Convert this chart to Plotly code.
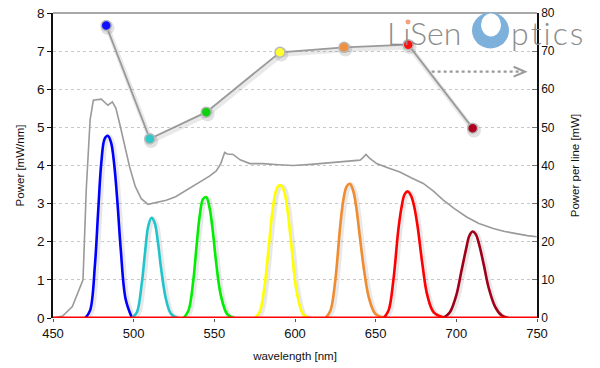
import plotly.graph_objects as go

# ---------------- data ----------------
# broadband (gray) spectrum, left axis [mW/nm]
bb_wl = [450, 456, 462, 466, 468.6, 470.6, 473, 475, 478, 480, 482, 484, 486.8, 489, 491.3, 494, 497.5, 501,
         504.7, 508.9, 514, 520.2, 526, 532.6, 538, 543, 547, 551.2, 554, 556.4, 558, 561.6, 566, 572, 580,
         590, 599, 610, 620, 630, 640.3, 642, 644, 646, 650.6, 657, 665, 672, 679.5, 686, 691.9, 699, 706.4,
         714, 722.9, 730, 738, 744, 749.8]
bb_val = [0.0, 0.05, 0.3, 0.7, 1.0, 3.35, 5.2, 5.71, 5.74, 5.74, 5.66, 5.58, 5.67, 5.5, 5.1, 4.6, 3.96, 3.45,
          3.13, 2.98, 3.03, 3.09, 3.18, 3.35, 3.48, 3.6, 3.72, 3.86, 4.05, 4.34, 4.3, 4.29, 4.15, 4.05, 4.05,
          4.02, 4.0, 4.03, 4.06, 4.1, 4.14, 4.2, 4.29, 4.2, 4.05, 3.95, 3.83, 3.68, 3.53, 3.32, 3.09, 2.86, 2.65,
          2.48, 2.35, 2.27, 2.2, 2.16, 2.13]

# individual laser lines, left axis [mW/nm]
blue_wl = [470, 473, 476, 478, 480, 482, 484, 486, 488, 490, 492, 495, 499]
blue_v = [0, 0.2, 1.4, 2.8, 4.1, 4.7, 4.78, 4.6, 4.0, 3.0, 1.8, 0.5, 0]
cyan_wl = [499, 502, 505, 507, 509, 511, 513, 515, 517, 520, 523, 527]
cyan_v = [0, 0.15, 0.9, 1.7, 2.4, 2.63, 2.5, 2.0, 1.3, 0.5, 0.12, 0]
green_wl = [531, 534, 537, 539, 541, 543, 545, 547, 549, 551, 554, 558, 562]
green_v = [0, 0.2, 1.0, 1.9, 2.7, 3.12, 3.17, 2.9, 2.3, 1.5, 0.6, 0.1, 0]
yellow_wl = [575, 578, 581, 584, 586, 588, 590, 592, 594, 596, 598, 601, 605, 609]
yellow_v = [0, 0.15, 0.8, 2.0, 2.8, 3.3, 3.48, 3.45, 3.2, 2.6, 1.8, 0.7, 0.1, 0]
orange_wl = [619, 622, 625, 628, 630, 632, 634, 636, 638, 640, 643, 646, 650, 656]
orange_v = [0, 0.2, 1.0, 2.4, 3.1, 3.45, 3.52, 3.35, 2.9, 2.2, 1.2, 0.5, 0.1, 0]
red_wl = [655, 658, 661, 664, 666, 668, 670, 672, 674, 676, 679, 682, 686, 693]
red_v = [0, 0.2, 1.0, 2.3, 2.9, 3.25, 3.32, 3.2, 2.9, 2.4, 1.4, 0.6, 0.15, 0]
dred_wl = [692, 696, 700, 703, 706, 708, 710, 712, 714, 717, 720, 724, 728, 732]
dred_v = [0, 0.15, 0.6, 1.2, 1.8, 2.15, 2.27, 2.2, 1.95, 1.4, 0.8, 0.3, 0.07, 0]

# power per line, right axis [mW]
line_wl = [483, 510, 545, 590.7, 630.4, 670.2, 710.1]
line_pw = [76.7, 47.0, 54.0, 69.7, 71.0, 71.7, 49.8]
line_colors = ["#1010ff", "#30c8c8", "#10d010", "#ffff30", "#f09040", "#ff1010", "#b00020"]

x_ticks = [450, 500, 550, 600, 650, 700, 750]

# ---------------- figure ----------------
FONT = "Arial, Liberation Sans, sans-serif"
OFF = 0  # page body margin (removed via post_script)
BOX_L, BOX_R, BOX_T, BOX_B = 53, 537, 12.5, 318  # plot area in page pixels
L, T = BOX_L - OFF, BOX_T - OFF
R = 600 - (BOX_R - OFF)
B = 368 - (BOX_B - OFF)


def px(xp):
    return (xp - BOX_L) / (BOX_R - BOX_L)


def py(yp):
    return (BOX_B - yp) / (BOX_B - BOX_T)


fig = go.Figure()

# broadband spectrum
fig.add_trace(go.Scatter(x=bb_wl, y=bb_val, mode="lines",
                         line=dict(color="#9a9a9a", width=1.6), hoverinfo="skip"))

peaks = [(blue_wl, blue_v, "#0000ff"), (cyan_wl, cyan_v, "#22c4cc"), (green_wl, green_v, "#00ee00"),
         (yellow_wl, yellow_v, "#ffff00"), (orange_wl, orange_v, "#f08c30"), (red_wl, red_v, "#ff0000"),
         (dred_wl, dred_v, "#a00018")]

# soft shadows under each line
for wl, v, c in peaks:
    fig.add_trace(go.Scatter(x=[w + 1.0 for w in wl], y=[max(0, y - 0.03) for y in v], mode="lines",
                             line=dict(color="rgba(140,140,140,0.2)", width=5, shape="spline", smoothing=1),
                             hoverinfo="skip"))
for wl, v, c in peaks:
    fig.add_trace(go.Scatter(x=wl, y=v, mode="lines",
                             line=dict(color=c, width=2.6, shape="spline", smoothing=1),
                             hoverinfo="skip"))

# baseline (red at zero)
fig.add_trace(go.Scatter(x=[x_ticks[0], x_ticks[-1]], y=[0, 0], mode="lines",
                         line=dict(color="#ff0000", width=3), hoverinfo="skip"))

# power per line (right axis) with shadow
fig.add_trace(go.Scatter(x=[w + 0.8 for w in line_wl], y=[p - 0.6 for p in line_pw], yaxis="y2",
                         mode="lines+markers",
                         line=dict(color="rgba(120,120,120,0.16)", width=5),
                         marker=dict(size=14, color="rgba(120,120,120,0.22)"), hoverinfo="skip"))
fig.add_trace(go.Scatter(x=line_wl, y=line_pw, yaxis="y2", mode="lines+markers",
                         line=dict(color="#9a9a9a", width=1.8),
                         marker=dict(size=10, color=line_colors, line=dict(color="#b8b8b8", width=1.5)),
                         hoverinfo="skip"))

# dotted arrow pointing to right axis
fig.add_shape(type="line", xref="x", yref="y2", x0=684.7, x1=741, y0=64.6, y1=64.6,
              line=dict(color="#999999", width=2.2, dash="dot"))
fig.add_shape(type="path", xref="x", yref="y2",
              path="M 735.5 65.9 L 742.6 64.6 L 735.5 63.3",
              line=dict(color="#999999", width=2))

# logo
fig.add_shape(type="circle", xref="paper", yref="paper",
              x0=px(472), x1=px(509), y0=py(48), y1=py(12),
              fillcolor="#7eb0dc", line=dict(width=0), layer="above")
fig.add_shape(type="circle", xref="paper", yref="paper",
              x0=px(481), x1=px(501), y0=py(36), y1=py(13),
              fillcolor="white", line=dict(width=0), layer="above")
fig.add_annotation(xref="paper", yref="paper", x=px(385), y=py(54),
                   text="LıSen", showarrow=False, xanchor="left", yanchor="bottom",
                   font=dict(family="Lato, Inter, sans-serif", size=32, color="#8c8c8c", weight=300))
fig.add_annotation(xref="paper", yref="paper", x=px(509), y=py(54),
                   text="p\u200at\u200ai\u200ac\u200as", showarrow=False, xanchor="left", yanchor="bottom",
                   font=dict(family="Lato, Inter, sans-serif", size=32, color="#8c8c8c", weight=300))
fig.add_shape(type="circle", xref="paper", yref="paper",
              x0=px(405.5), x1=px(410.5), y0=py(24), y1=py(19),
              fillcolor="#f4a080", line=dict(width=0), layer="above")

fig.update_layout(
    width=600, height=368,
    margin=dict(l=L, r=R, t=T, b=B, autoexpand=False),
    paper_bgcolor="white", plot_bgcolor="white",
    showlegend=False,
    font=dict(family=FONT, color="#111111"),
    xaxis=dict(range=[450, 750], tickvals=x_ticks, showgrid=False, zeroline=False, automargin=False,
               ticks="outside", ticklen=3, tickcolor="#555", showline=False,
               tickfont=dict(size=13, family=FONT),
               title=dict(text="wavelength [nm]", font=dict(size=11.5, family=FONT), standoff=12)),
    yaxis=dict(range=[0, 8], dtick=1, showgrid=True, gridcolor="#c8c8c8", griddash="dot", gridwidth=1,
               zeroline=False, showline=True, linecolor="#111", linewidth=1.5, automargin=False,
               ticklabeloverflow="allow",
               ticks="outside", ticklen=4, tickcolor="#111", tickfont=dict(size=13.5, family=FONT),
               title=dict(text="Power [mW/nm]", font=dict(size=11.5, family=FONT), standoff=10)),
    yaxis2=dict(range=[0, 80], dtick=10, overlaying="y", side="right", showgrid=False, zeroline=False,
                showline=True, linecolor="#111", linewidth=1.5, ticks="inside", ticklen=5, tickcolor="#777",
                automargin=False, ticklabeloverflow="allow", tickfont=dict(size=12, family=FONT),
                title=dict(text="Power per line [mW]", font=dict(size=11.5, family=FONT), standoff=17)),
)
# top border line at y=8
fig.add_shape(type="line", xref="paper", yref="paper", x0=0, x1=1, y0=1, y1=1,
              line=dict(color="#a8a8a8", width=2), layer="below")

fig.write_html("out.html", config={"displayModeBar": False},
               post_script="document.body.style.margin='0px';")
